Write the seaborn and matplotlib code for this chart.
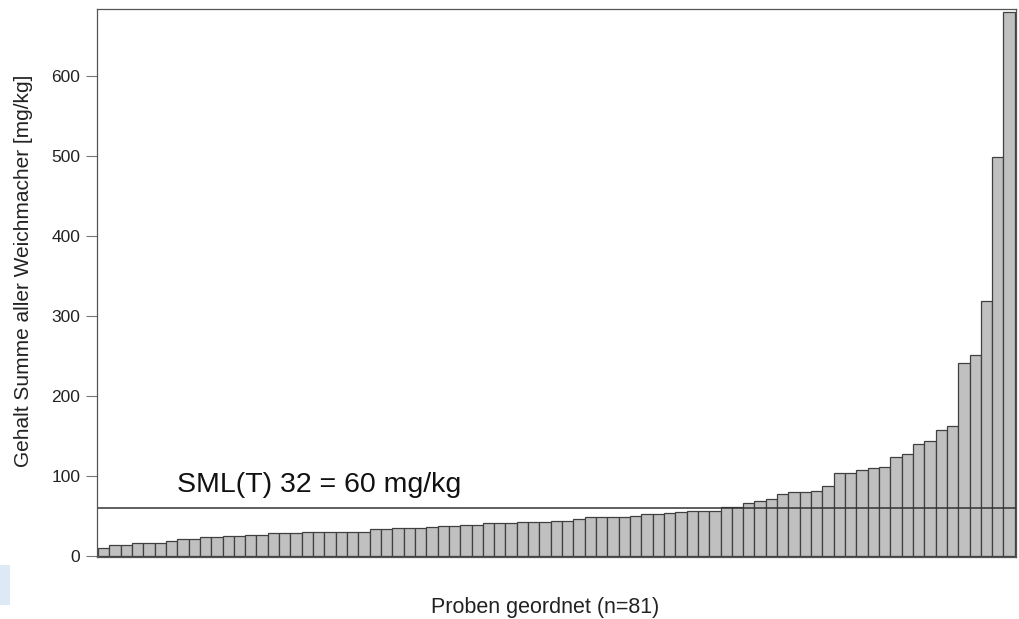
import matplotlib
matplotlib.use("Agg")
import matplotlib.pyplot as plt
import seaborn as sns
import pandas as pd
from matplotlib.patches import Rectangle

values = [10, 13, 13, 16, 16, 16, 18, 21.5, 21.5, 23, 23, 24.5, 24.5, 26, 26, 28, 29, 29,
          30, 30, 30, 30, 30, 30, 33, 33, 35, 35, 35, 36, 37, 37, 38, 38.5, 40.5, 40.5, 40.5,
          42, 42, 42, 44, 44, 46, 48.5, 48.5, 48.5, 48.5, 50, 52, 52, 53.5, 55, 56.5, 56.5,
          56.5, 61, 61, 66.5, 69, 71, 77.5, 80, 80, 81.5, 87, 103, 103, 107, 110, 111.5, 123,
          127, 140, 144, 157, 162.5, 241.5, 251, 318, 498, 680]
samples = list(range(1, len(values) + 1))
limit_value = 60
limit_label = "SML(T) 32 = 60 mg/kg"
y_ticks = [0, 100, 200, 300, 400, 500, 600]
x_label = "Proben geordnet (n=81)"
y_label = "Gehalt Summe aller Weichmacher [mg/kg]"

sns.set_style("white")
plt.rcParams['font.family'] = ['Liberation Sans', 'DejaVu Sans']

df = pd.DataFrame({"Probe": samples, "Gehalt": values})

fig = plt.figure(figsize=(10.2, 6.19), dpi=100)
ax = fig.add_axes([0.095, 0.10, 0.901, 0.885])

sns.barplot(data=df, x="Probe", y="Gehalt", color="#c0c0c0", saturation=1,
            width=1.0, edgecolor="#404040", linewidth=0.9, ax=ax)

ax.axhline(limit_value, color="#333333", linewidth=1.1)
ax.text(6.5, limit_value + 12, limit_label, fontsize=20.5, color="#111111",
        ha="left", va="bottom")

ax.set_xlim(-0.6, len(values) - 0.4)
ax.set_ylim(-1.5, 683)
ax.set_yticks(y_ticks)
ax.set_yticklabels([str(t) for t in y_ticks], fontsize=12.5, color="#222222")
ax.set_xticks([])
ax.tick_params(axis="y", direction="out", length=8, width=0.8, color="#777777", pad=4, left=True)

for s in ax.spines.values():
    s.set_visible(True)
    s.set_color("#555555")
    s.set_linewidth(0.9)

ax.set_ylabel(y_label, fontsize=15, color="#222222")
ax.yaxis.set_label_coords(-0.069, 0.522)
ax.set_xlabel("")
fig.text(0.534, 1 - 607 / 619, x_label, fontsize=15.5, color="#222222", ha="center", va="center")

fig.patches.append(Rectangle((0, 1 - 605 / 619), 10 / 1020, 40 / 619,
                             transform=fig.transFigure, facecolor="#dde9f7",
                             edgecolor="none", figure=fig))

fig.savefig("out.png", dpi=100, facecolor="white")
